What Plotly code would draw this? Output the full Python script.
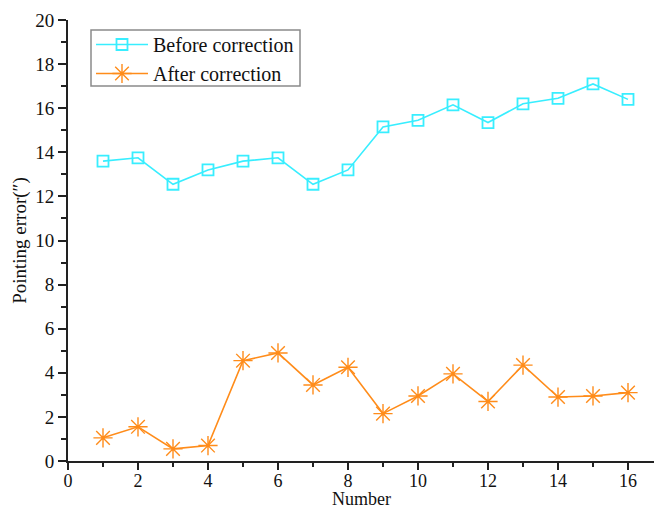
import plotly.graph_objects as go

numbers = list(range(1, 17))
before_correction = [13.6, 13.75, 12.55, 13.2, 13.6, 13.75, 12.55, 13.2,
                     15.15, 15.45, 16.15, 15.35, 16.2, 16.45, 17.1, 16.4]
after_correction = [1.05, 1.55, 0.55, 0.7, 4.55, 4.9, 3.45, 4.25,
                    2.15, 2.95, 3.95, 2.7, 4.35, 2.9, 2.95, 3.1]
series_names = ["Before correction", "After correction"]
x_title = "Number"
y_title = "Pointing error(\u2033)"

FONT = "Liberation Serif"
AX = "#222222"
CYAN = "#38EEFF"
ORANGE = "#FF8C1A"

fig = go.Figure()
fig.add_trace(go.Scatter(
    x=numbers, y=before_correction, name=series_names[0], mode="lines+markers",
    line=dict(color=CYAN, width=1.6),
    marker=dict(symbol="square-open", size=11, color=CYAN, line=dict(width=1.8, color=CYAN)),
))
fig.add_trace(go.Scatter(
    x=numbers, y=after_correction, name=series_names[1], mode="lines+markers",
    line=dict(color=ORANGE, width=1.6),
    marker=dict(symbol="asterisk-open", size=16, color=ORANGE, line=dict(width=1.4, color=ORANGE)),
))

W, H = 654, 508
ml, mt, mr, mb = 68, 20, 0, 47
plot_w = W - ml - mr
plot_h = H - mt - mb
px_per_unit = 35.0
x_max = plot_w / px_per_unit
top_max = plot_w / 59.35


def px_x(p):
    return (p - ml) / plot_w


def px_y(p):
    return (H - mb - p) / plot_h


fig.update_layout(
    width=W, height=H,
    margin=dict(l=ml, r=mr, t=mt, b=mb, autoexpand=False),
    paper_bgcolor="white", plot_bgcolor="white",
    font=dict(family=FONT, size=19, color="#111111"),
    showlegend=True,
    legend=dict(
        x=px_x(91), y=px_y(25), xanchor="left", yanchor="top",
        bgcolor="rgba(0,0,0,0)", borderwidth=0,
        font=dict(family=FONT, size=20, color="#111111"),
        tracegroupgap=0, itemwidth=52,
    ),
    shapes=[dict(
        type="rect", xref="paper", yref="paper",
        x0=px_x(91), x1=px_x(300), y0=px_y(86), y1=px_y(30),
        line=dict(color="#8a8a8a", width=1.5), fillcolor="white", layer="above",
        opacity=1,
    )],
    annotations=[dict(
        text=x_title, xref="paper", yref="paper", x=0.5, y=px_y(487),
        xanchor="center", yanchor="top", showarrow=False,
        font=dict(family=FONT, size=18, color="#111111"),
    )],
    xaxis=dict(
        range=[0, x_max], tickmode="linear", tick0=0, dtick=2,
        showgrid=False, zeroline=False, automargin=False,
        showline=True, linecolor=AX, linewidth=2,
        ticks="outside", ticklen=7, tickwidth=2, tickcolor=AX,
        ticklabelstandoff=-5,
        minor=dict(dtick=1, tick0=0, ticks="outside", ticklen=4, tickwidth=2, tickcolor=AX, showgrid=False),
        tickfont=dict(family=FONT, size=18, color="#111111"),
    ),
    xaxis2=dict(
        overlaying="x", side="top", anchor="y",
        range=[0, top_max], tickmode="linear", tick0=0, dtick=2,
        showgrid=False, zeroline=False, showticklabels=False, automargin=False,
        showline=True, linecolor=AX, linewidth=2,
        ticks="inside", ticklen=8, tickwidth=2, tickcolor=AX,
        minor=dict(dtick=1, tick0=0, ticks="inside", ticklen=4, tickwidth=2, tickcolor=AX, showgrid=False),
    ),
    yaxis=dict(
        range=[0, 20], tickmode="linear", tick0=0, dtick=2,
        showgrid=False, zeroline=False, automargin=False,
        showline=True, linecolor=AX, linewidth=2,
        ticks="outside", ticklen=8, tickwidth=2, tickcolor=AX,
        minor=dict(dtick=1, tick0=0, ticks="outside", ticklen=5, tickwidth=2, tickcolor=AX, showgrid=False),
        tickfont=dict(family=FONT, size=19, color="#111111"),
        title=dict(text=y_title, font=dict(family=FONT, size=19), standoff=4),
    ),
)

fig.write_html("out.html")
